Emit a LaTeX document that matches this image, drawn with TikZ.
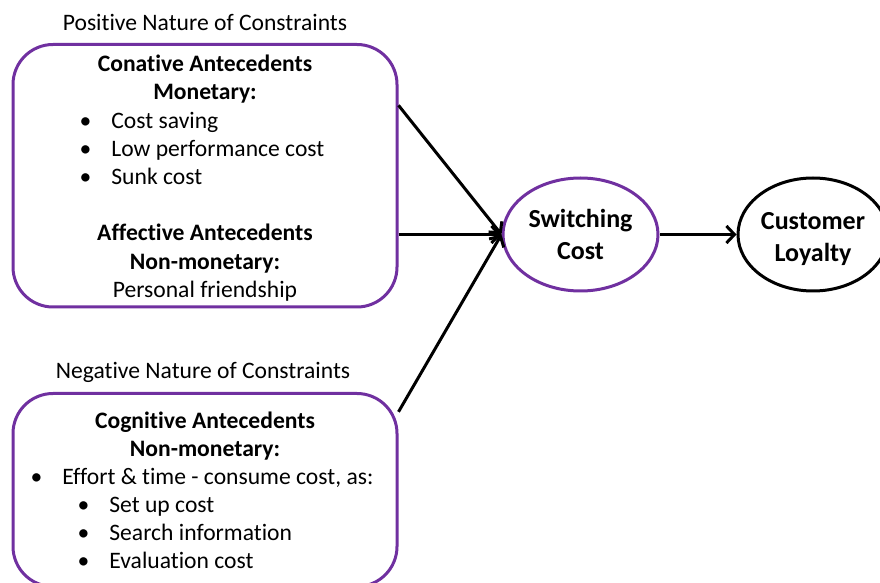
\documentclass[tikz,border=0pt]{standalone}
\usepackage{fontspec}
\setmainfont[Ligatures=NoCommon]{Carlito}
\usetikzlibrary{arrows.meta, shapes.geometric}

\definecolor{cpurple}{HTML}{7030A0}
\newcommand{\bul}{\llap{\textbullet\hspace{10pt}}}

\tikzset{
  box/.style={draw=cpurple, line width=1.5pt, rounded corners=20pt, inner sep=0pt, minimum width=192pt},
  oval/.style={ellipse, line width=1.5pt, inner sep=0pt, minimum height=56.5pt, align=center,
    font=\fontsize{13}{16}\selectfont\bfseries},
  txt/.style={anchor=base west, inner sep=0pt, yshift=-0.8pt, font=\fontsize{11.8}{14}\selectfont},
  ctxt/.style={anchor=base, inner sep=0pt, yshift=-0.8pt, font=\fontsize{11.8}{14}\selectfont},
  btxt/.style={ctxt, font=\fontsize{11.8}{14}\selectfont\bfseries},
  link/.style={line width=1.5pt, -{Straight Barb[length=4pt, width=8.5pt]}}
}

\begin{document}
\begin{tikzpicture}[x=0.5pt, y=-0.5pt]
  \clip (0, 0) rectangle (880, 583);

  % upper box
  \node[ctxt] (postitle) at (205, 29) {Positive Nature of Constraints};
  \node[box, minimum height=131.25pt] (pos) at (205, 175.75) {};
  \node[btxt] (conative) at (205, 70) {Conative Antecedents};
  \node[btxt] (monetary) at (205, 98) {Monetary:};
  \foreach \t [count=\i] in {Cost saving, Low performance cost, Sunk cost} {
    \node[txt] (mon\i) at (111, 99 + 28*\i) {\bul\t};
  }
  \node[btxt] (affective) at (205, 239) {Affective Antecedents};
  \node[btxt] (nonmon) at (205, 268) {Non-monetary:};
  \node[ctxt] (friend) at (205, 296) {Personal friendship};

  % lower box
  \node[ctxt] (negtitle) at (203, 377) {Negative Nature of Constraints};
  \node[box, minimum height=96.5pt] (neg) at (205, 490) {};
  \node[btxt] (cognitive) at (205, 427) {Cognitive Antecedents};
  \node[btxt] (nonmontwo) at (205, 455) {Non-monetary:};
  \node[txt] (effort) at (62, 483) {\bul Effort \& time - consume cost, as:};
  \foreach \t [count=\i] in {Set up cost, Search information, Evaluation cost} {
    \node[txt] (eff\i) at (109, 483 + 28*\i) {\bul\t};
  }

  % right side
  \node[oval, draw=cpurple, minimum width=77.5pt] (sw) at (580.5, 234.5) {Switching\\Cost};
  \node[oval, draw=black, minimum width=75pt] (cl) at (813, 234.5) {\rule{0pt}{13pt}Customer\\Loyalty};

  \draw[link] (pos.20) -- (sw.west);
  \draw[link] (pos.east |- sw.west) -- (sw.west);
  \draw[link] (neg.22) -- (sw.west);
  \draw[link] (sw.east) -- (cl.west);
\end{tikzpicture}
\end{document}
